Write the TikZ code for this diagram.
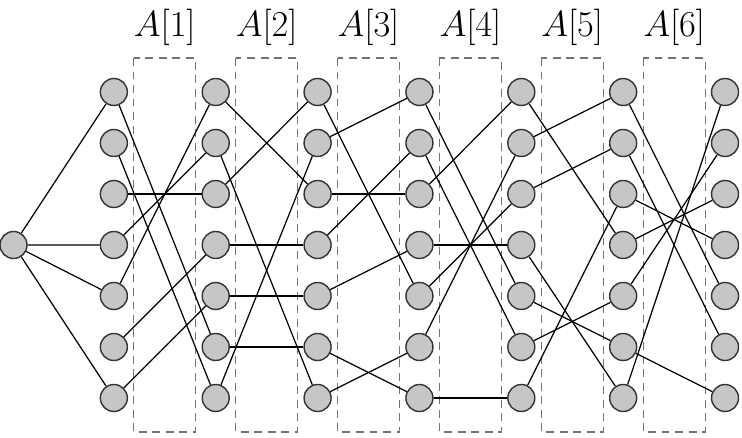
\documentclass[tikz,border=0pt]{standalone}
\usepackage{tikz}
\usetikzlibrary{positioning}

\begin{document}
\begin{tikzpicture}[
    vtx/.style={circle, draw=black!80, fill=gray!45, line width=0.8pt, minimum size=5.4mm, inner sep=0pt},
    blk/.style={draw=black!55, line width=0.6pt, dash pattern=on 4.5pt off 3.2pt},
    lnk/.style={line width=0.7pt},
    lbl/.style={font=\fontsize{20.5}{24}\selectfont, anchor=base}
  ]
    \useasboundingbox (0,0) rectangle (14.84,-8.76);
    % dashed blocks and their labels
    \foreach \k in {1,...,6} {
      \draw[blk] ({0.24+2.0372*\k+0.4},-1.16) rectangle ({0.24+2.0372*(\k+1)-0.4},-8.64);
      \node[lbl] (lab\k) at ({0.24+2.0372*(\k+0.5)},-0.74) {$A[\k]$};
    }
    % vertices
    \node[vtx] (src) at (0.27,-4.9) {};
    \foreach \c in {1,...,7}
      \foreach \r in {1,...,7}
        \node[vtx] (v\c-\r) at ({0.24+2.0372*\c},{-1.84-1.02*(\r-1)}) {};
    % links
    \foreach \b in {1,4,5,7} \draw[lnk] (src) -- (v1-\b);
    \foreach \a/\b in {1/6,2/7,3/3,4/2,5/1,6/4,7/5} \draw[lnk] (v1-\a) -- (v2-\b);
    \foreach \a/\b in {1/3,2/7,3/1,4/4,5/5,6/6,7/2} \draw[lnk] (v2-\a) -- (v3-\b);
    \foreach \a/\b in {1/5,2/1,3/3,4/2,5/4,6/7,7/6} \draw[lnk] (v3-\a) -- (v4-\b);
    \foreach \a/\b in {1/5,2/6,3/1,4/4,5/3,6/2,7/7} \draw[lnk] (v4-\a) -- (v5-\b);
    \foreach \a/\b in {1/4,2/1,3/2,4/7,5/6,6/5,7/3} \draw[lnk] (v5-\a) -- (v6-\b);
    \foreach \a/\b in {1/5,2/6,3/4,4/3,5/2,6/7,7/1} \draw[lnk] (v6-\a) -- (v7-\b);
\end{tikzpicture}
\end{document}
